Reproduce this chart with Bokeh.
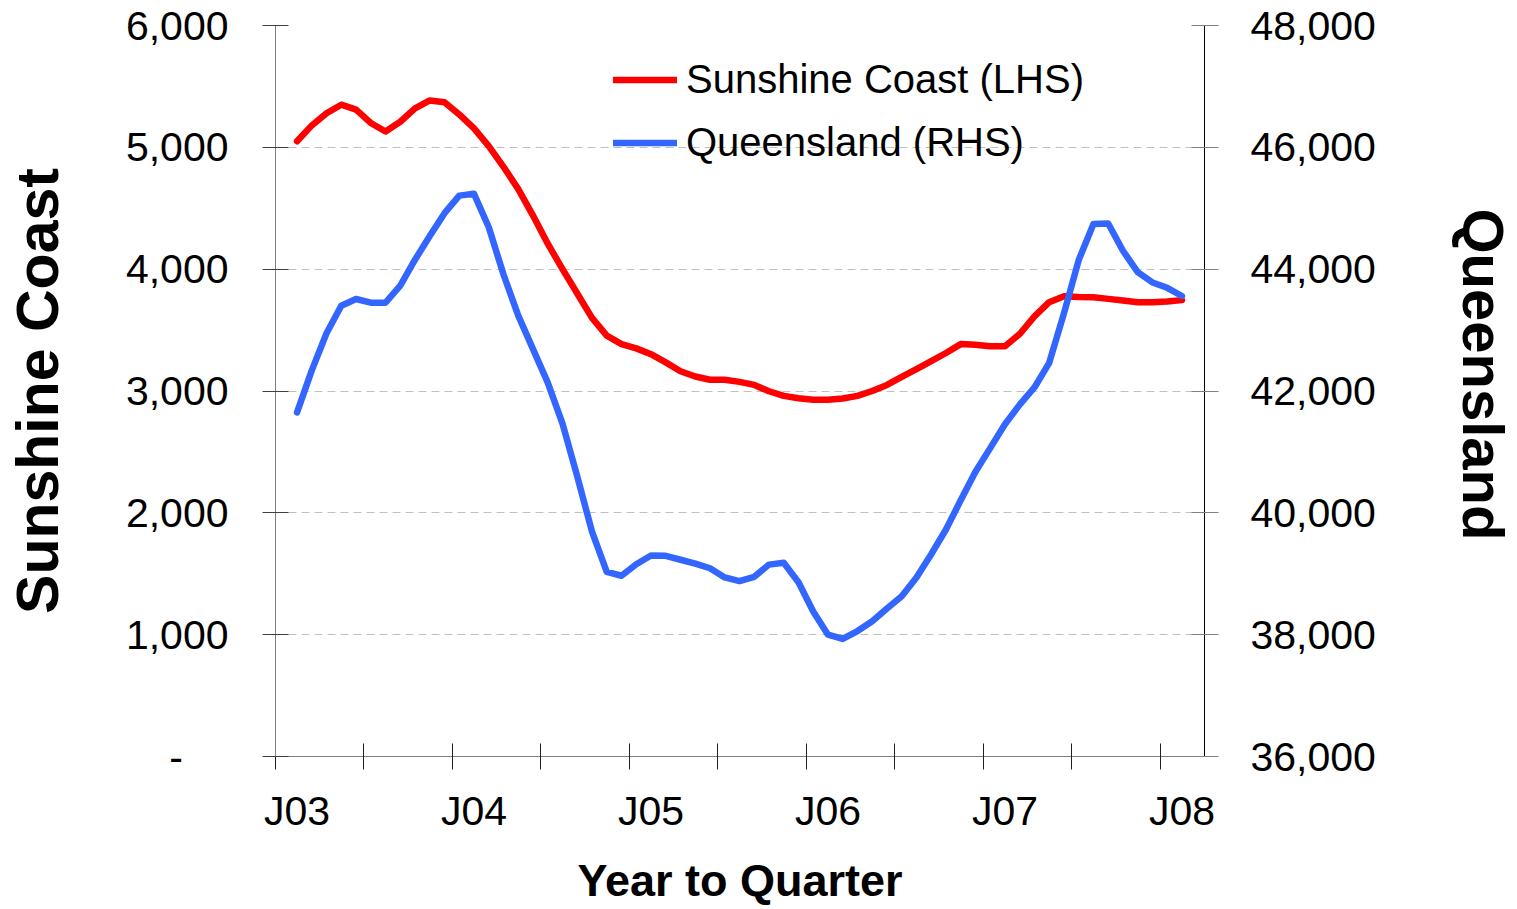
from bokeh.plotting import figure
from bokeh.models import Range1d, LinearAxis, FixedTicker, NumeralTickFormatter, Title
from bokeh.embed import file_html
from bokeh.resources import INLINE

# months since June 2003 (J03 = 0 ... J08 = 60)
months = list(range(61))
sunshine_coast = [5050, 5180, 5280, 5350, 5310, 5200, 5130, 5210, 5320, 5385,
                  5370, 5270, 5155, 5010, 4840, 4657, 4440, 4209, 4000, 3800,
                  3600, 3454, 3385, 3350, 3302, 3235, 3162, 3119, 3092, 3092,
                  3075, 3050, 2998, 2960, 2940, 2928, 2928, 2938, 2960, 3000,
                  3050, 3116, 3180, 3246, 3312, 3385, 3380, 3368, 3368, 3468,
                  3613, 3729, 3778, 3772, 3770, 3756, 3742, 3729, 3729, 3734,
                  3746]
queensland = [41650, 42338, 42947, 43400, 43510, 43450, 43450, 43730, 44155, 44544,
              44919, 45207, 45237, 44689, 43912, 43237, 42687, 42137, 41463, 40597,
              39691, 39030, 38967, 39157, 39300, 39295, 39230, 39165, 39090, 38940,
              38880, 38950, 39150, 39180, 38860, 38380, 38000, 37930, 38060, 38220,
              38430, 38630, 38940, 39320, 39726, 40206, 40675, 41062, 41454, 41776,
              42058, 42463, 43274, 44150, 44740, 44750, 44302, 43952, 43782, 43694,
              43560]
x_label_pos = [0, 12, 24, 36, 48, 60]
x_labels = ["J03", "J04", "J05", "J06", "J07", "J08"]
x_tick_marks = [-1.46 + 6 * k for k in range(11)]
left_ticks = [0, 1000, 2000, 3000, 4000, 5000, 6000]
right_ticks = [36000, 38000, 40000, 42000, 44000, 46000, 48000]

FONT = "Liberation Sans"

p = figure(width=1517, height=908, output_backend="svg", toolbar_location=None,
           x_range=Range1d(-1.46, 61.53), y_range=Range1d(0, 6000),
           min_border_left=275, min_border_right=313, min_border_top=25,
           min_border_bottom=152)
p.extra_y_ranges = {"q": Range1d(36000, 48000)}
p.outline_line_color = None
p.xgrid.visible = False
p.ygrid.ticker = FixedTicker(ticks=left_ticks)
p.ygrid.grid_line_color = "#C0C0C0"
p.ygrid.grid_line_dash = "8 5"
p.ygrid.grid_line_width = 1

p.line(months, sunshine_coast, line_color="#FF0000", line_width=6.5,
       line_join="round", line_cap="round", legend_label="Sunshine Coast (LHS)")
p.line(months, queensland, line_color="#3366FF", line_width=6.5,
       line_join="round", line_cap="round", y_range_name="q",
       legend_label="Queensland (RHS)")

# bottom axis
xa = p.xaxis[0]
xa.ticker = FixedTicker(ticks=x_label_pos, minor_ticks=x_tick_marks)
xa.major_label_overrides = {v: s for v, s in zip(x_label_pos, x_labels)}
xa.major_tick_in = 0
xa.major_tick_out = 0
xa.minor_tick_in = 13
xa.minor_tick_out = 13
xa.minor_tick_line_color = "#202020"
xa.axis_line_color = "#808080"
xa.major_label_text_font = FONT
xa.major_label_text_font_size = "41px"
xa.major_label_text_color = "black"
xa.major_label_standoff = 18
xa.axis_label = "Year to Quarter"
xa.axis_label_text_font = FONT
xa.axis_label_text_font_size = "45px"
xa.axis_label_text_font_style = "bold"
xa.axis_label_text_color = "black"
xa.axis_label_standoff = 18

# left axis
ya = p.yaxis[0]
ya.ticker = FixedTicker(ticks=left_ticks, minor_ticks=[])
ya.formatter = NumeralTickFormatter(format="0,0")
ya.major_label_overrides = {0: "-" + "\u00a0" * 4}
ya.major_tick_in = 13
ya.major_tick_out = 13
ya.major_tick_line_color = "#404040"
ya.axis_line_color = "#808080"
ya.major_label_text_font = FONT
ya.major_label_text_font_size = "41px"
ya.major_label_text_color = "black"
ya.major_label_standoff = 34
ya.axis_label = "Sunshine Coast"
ya.axis_label_text_font = FONT
ya.axis_label_text_font_size = "59px"
ya.axis_label_text_font_style = "bold"
ya.axis_label_text_color = "black"
ya.axis_label_standoff = 52

# right axis
ra = LinearAxis(y_range_name="q", ticker=FixedTicker(ticks=right_ticks, minor_ticks=[]),
                formatter=NumeralTickFormatter(format="0,0"))
ra.major_tick_in = 13
ra.major_tick_out = 14
ra.major_tick_line_color = "#808080"
ra.axis_line_color = "black"
ra.major_label_text_font = FONT
ra.major_label_text_font_size = "41px"
ra.major_label_text_color = "black"
ra.major_label_standoff = 32
ra.axis_label = "\u00a0"
ra.axis_label_text_font_size = "1px"
ra.axis_label_standoff = 67
p.add_layout(ra, "right")

p.add_layout(Title(text="Queensland", align="left", vertical_align="bottom",
                   offset=183, standoff=0, text_font=FONT, text_font_size="58px",
                   text_font_style="bold", text_color="black"), "right")

lg = p.legend[0]
lg.location = (338, 582)
lg.border_line_color = None
lg.background_fill_alpha = 0
lg.padding = 0
lg.margin = 0
lg.spacing = 0
lg.glyph_width = 64
lg.glyph_height = 63
lg.label_height = 63
lg.label_standoff = 9
lg.label_text_font = FONT
lg.label_text_font_size = "40px"
lg.label_text_color = "black"

open("out.html", "w").write(file_html(p, INLINE))
